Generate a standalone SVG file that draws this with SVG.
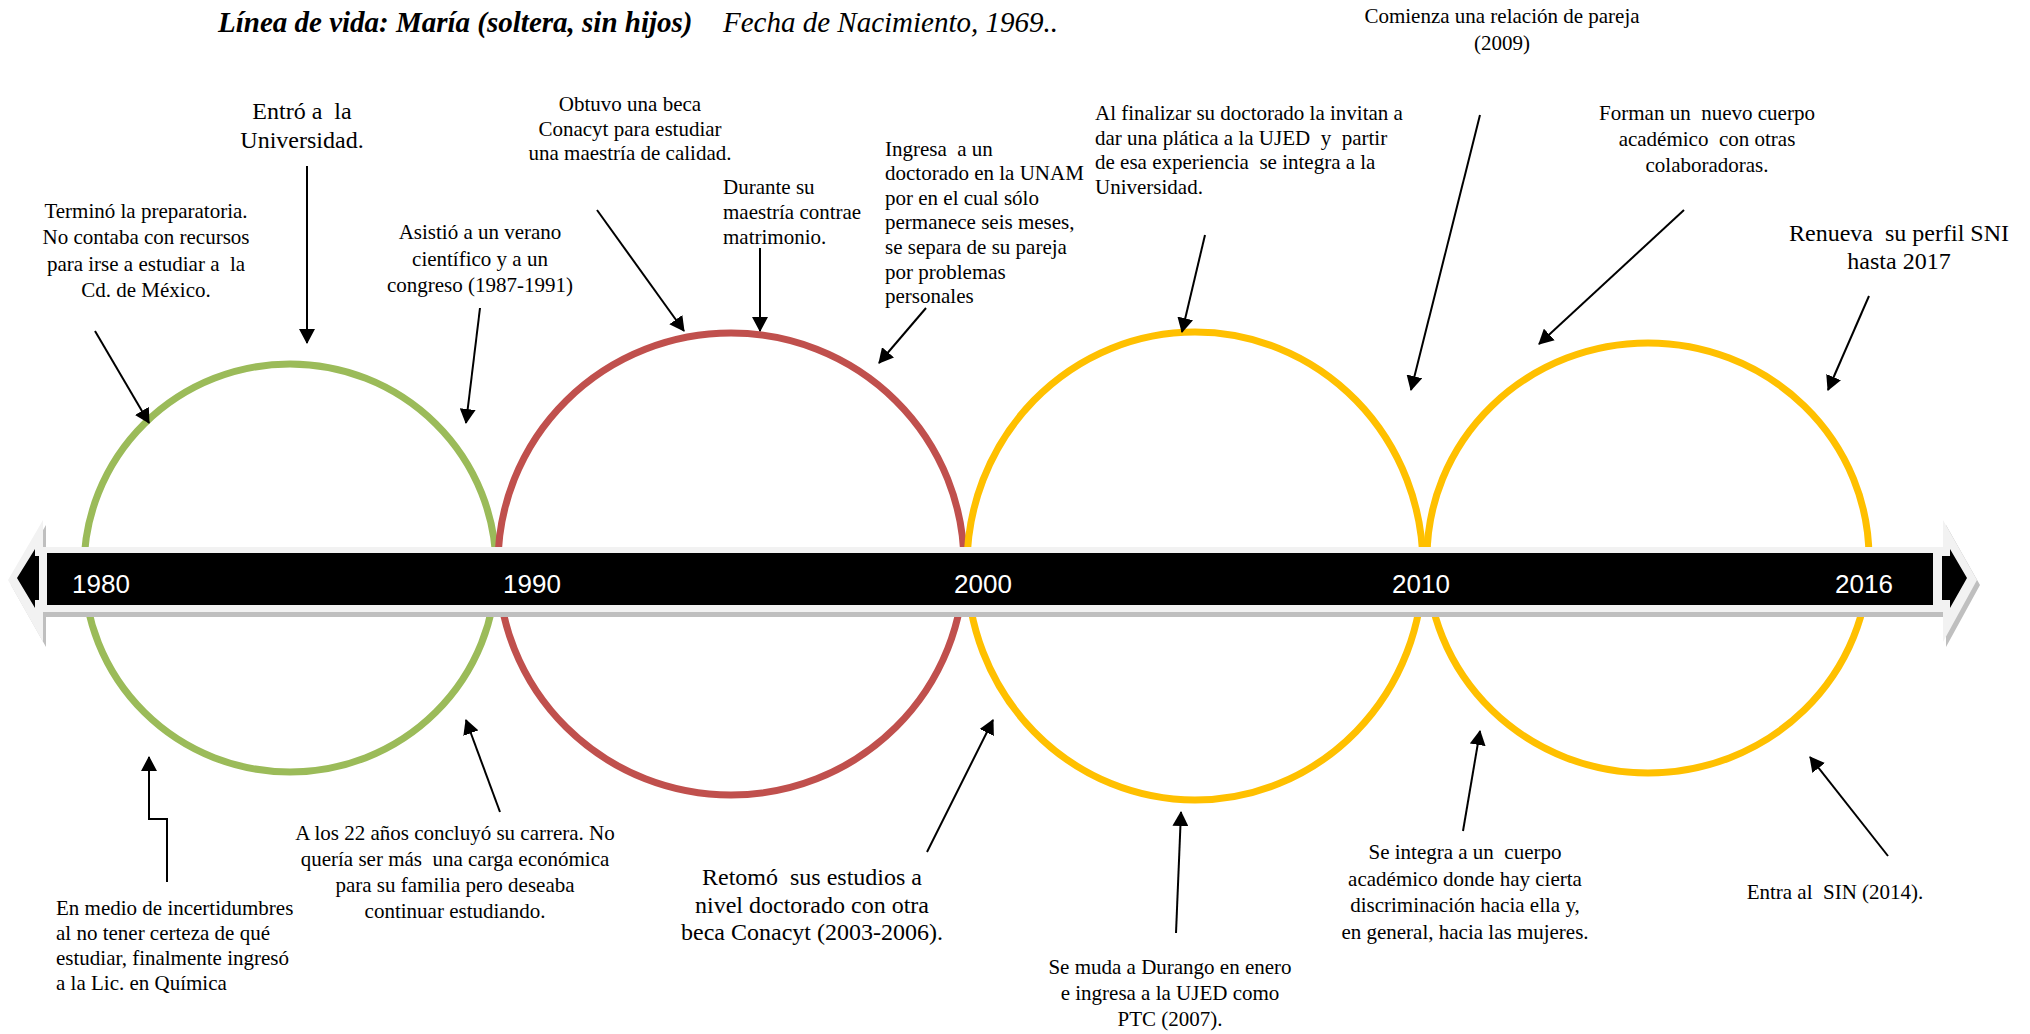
<svg xmlns="http://www.w3.org/2000/svg" width="2030" height="1034" viewBox="0 0 2030 1034" xml:space="preserve">
<defs>
<style>
text{white-space:pre}
.t{font-family:"Liberation Serif","Times New Roman",serif;font-size:21px;fill:#000}
.tb{font-size:24px}
.m{text-anchor:middle}
.yr{font-family:"Liberation Sans",Arial,sans-serif;font-size:26px;fill:#fff}
.ring{fill:none;stroke-width:7}
.c{fill:none;stroke:#000;stroke-width:2;marker-end:url(#ah)}
</style>
<marker id="ah" markerUnits="userSpaceOnUse" markerWidth="15" markerHeight="16" viewBox="0 0 15 16" refX="14" refY="8" orient="auto">
<path d="M0,0 L15,8 L0,16 Z" fill="#000"/>
</marker>
</defs>
<rect width="2030" height="1034" fill="#fff"/>

<g id="title">
<text x="218" y="32" font-family="Liberation Serif,'Times New Roman',serif" font-size="29"><tspan font-weight="bold" font-style="italic">Línea de vida: María (soltera, sin hijos)</tspan><tspan x="723" font-style="italic">Fecha de Nacimiento, 1969..</tspan></text>
</g>

<g id="rings">
<ellipse id="ring1" class="ring" cx="290" cy="568" rx="206" ry="204" stroke="#9BBB59"/>
<ellipse id="ring2" class="ring" cx="731" cy="564" rx="233" ry="231" stroke="#C0504D"/>
<ellipse id="ring3" class="ring" cx="1195" cy="566" rx="228" ry="234" stroke="#FFC000"/>
<ellipse id="ring4" class="ring" cx="1648" cy="558" rx="221" ry="215" stroke="#FFC000"/>
</g>

<g id="timeline">
<polygon transform="translate(3,5)" fill="#BFBFBF" points="8,580 43,520 43,547 1943,547 1943,520 1977,580 1943,642 1943,612 43,612 43,642"/>
<polygon fill="#F2F2F2" points="8,580 43,520 43,547 1943,547 1943,520 1977,580 1943,642 1943,612 43,612 43,642"/>
<rect x="47" y="553" width="1886" height="52" fill="#000"/>
<polygon fill="#000" points="17,578 35,549 35,556 39,556 39,600 35,600 35,608"/>
<polygon fill="#000" points="1942,556 1950,556 1950,549 1967,578 1950,608 1950,600 1942,600"/>
<text class="yr" x="72" y="593">1980</text>
<text class="yr" x="503" y="593">1990</text>
<text class="yr" x="954" y="593">2000</text>
<text class="yr" x="1392" y="593">2010</text>
<text class="yr" x="1835" y="593">2016</text>
</g>

<g id="n1"><text class="t m"><tspan x="146" y="218">Terminó la preparatoria.</tspan><tspan x="146" y="244">No contaba con recursos</tspan><tspan x="146" y="271">para irse a estudiar a  la</tspan><tspan x="146" y="297">Cd. de México.</tspan></text></g>
<g id="n2"><text class="t tb m"><tspan x="302" y="119">Entró a  la</tspan><tspan x="302" y="148">Universidad.</tspan></text></g>
<g id="n3"><text class="t m"><tspan x="480" y="239">Asistió a un verano</tspan><tspan x="480" y="266">científico y a un</tspan><tspan x="480" y="292">congreso (1987-1991)</tspan></text></g>
<g id="n4"><text class="t m"><tspan x="630" y="111">Obtuvo una beca</tspan><tspan x="630" y="136">Conacyt para estudiar</tspan><tspan x="630" y="160">una maestría de calidad.</tspan></text></g>
<g id="n5"><text class="t"><tspan x="723" y="194">Durante su</tspan><tspan x="723" y="219">maestría contrae</tspan><tspan x="723" y="244">matrimonio.</tspan></text></g>
<g id="n6"><text class="t"><tspan x="885" y="156">Ingresa  a un</tspan><tspan x="885" y="180">doctorado en la UNAM</tspan><tspan x="885" y="205">por en el cual sólo</tspan><tspan x="885" y="229">permanece seis meses,</tspan><tspan x="885" y="254">se separa de su pareja</tspan><tspan x="885" y="279">por problemas</tspan><tspan x="885" y="303">personales</tspan></text></g>
<g id="n7"><text class="t"><tspan x="1095" y="120">Al finalizar su doctorado la invitan a</tspan><tspan x="1095" y="145">dar una plática a la UJED  y  partir</tspan><tspan x="1095" y="169">de esa experiencia  se integra a la</tspan><tspan x="1095" y="194">Universidad.</tspan></text></g>
<g id="n8"><text class="t m"><tspan x="1502" y="23">Comienza una relación de pareja</tspan><tspan x="1502" y="50">(2009)</tspan></text></g>
<g id="n9"><text class="t m"><tspan x="1707" y="120">Forman un  nuevo cuerpo</tspan><tspan x="1707" y="146">académico  con otras</tspan><tspan x="1707" y="172">colaboradoras.</tspan></text></g>
<g id="n10"><text class="t tb m"><tspan x="1899" y="241">Renueva  su perfil SNI</tspan><tspan x="1899" y="269">hasta 2017</tspan></text></g>
<g id="n11"><text class="t"><tspan x="56" y="915">En medio de incertidumbres</tspan><tspan x="56" y="940">al no tener certeza de qué</tspan><tspan x="56" y="965">estudiar, finalmente ingresó</tspan><tspan x="56" y="990">a la Lic. en Química</tspan></text></g>
<g id="n12"><text class="t m"><tspan x="455" y="840">A los 22 años concluyó su carrera. No</tspan><tspan x="455" y="866">quería ser más  una carga económica</tspan><tspan x="455" y="892">para su familia pero deseaba</tspan><tspan x="455" y="918">continuar estudiando.</tspan></text></g>
<g id="n13"><text class="t tb m"><tspan x="812" y="885">Retomó  sus estudios a</tspan><tspan x="812" y="913">nivel doctorado con otra</tspan><tspan x="812" y="940">beca Conacyt (2003-2006).</tspan></text></g>
<g id="n14"><text class="t m"><tspan x="1170" y="974">Se muda a Durango en enero</tspan><tspan x="1170" y="1000">e ingresa a la UJED como</tspan><tspan x="1170" y="1026">PTC (2007).</tspan></text></g>
<g id="n15"><text class="t m"><tspan x="1465" y="859">Se integra a un  cuerpo</tspan><tspan x="1465" y="886">académico donde hay cierta</tspan><tspan x="1465" y="912">discriminación hacia ella y,</tspan><tspan x="1465" y="939">en general, hacia las mujeres.</tspan></text></g>
<g id="n16"><text class="t m" x="1835" y="899">Entra al  SIN (2014).</text></g>

<g id="connectors">
<line class="c" x1="95" y1="331" x2="149" y2="423"/>
<line class="c" x1="307" y1="166" x2="307" y2="343"/>
<line class="c" x1="480" y1="308" x2="466" y2="423"/>
<line class="c" x1="597" y1="210" x2="684" y2="331"/>
<line class="c" x1="760" y1="248" x2="760" y2="331"/>
<line class="c" x1="926" y1="308" x2="879" y2="363"/>
<line class="c" x1="1205" y1="235" x2="1182" y2="332"/>
<line class="c" x1="1480" y1="115" x2="1411" y2="390"/>
<line class="c" x1="1684" y1="210" x2="1539" y2="344"/>
<line class="c" x1="1869" y1="296" x2="1828" y2="390"/>
<polyline class="c" points="167,882 167,819 149,819 149,757"/>
<line class="c" x1="500" y1="812" x2="466" y2="720"/>
<line class="c" x1="927" y1="852" x2="993" y2="720"/>
<line class="c" x1="1176" y1="933" x2="1181" y2="812"/>
<line class="c" x1="1463" y1="831" x2="1480" y2="731"/>
<line class="c" x1="1888" y1="856" x2="1810" y2="757"/>
</g>
</svg>
